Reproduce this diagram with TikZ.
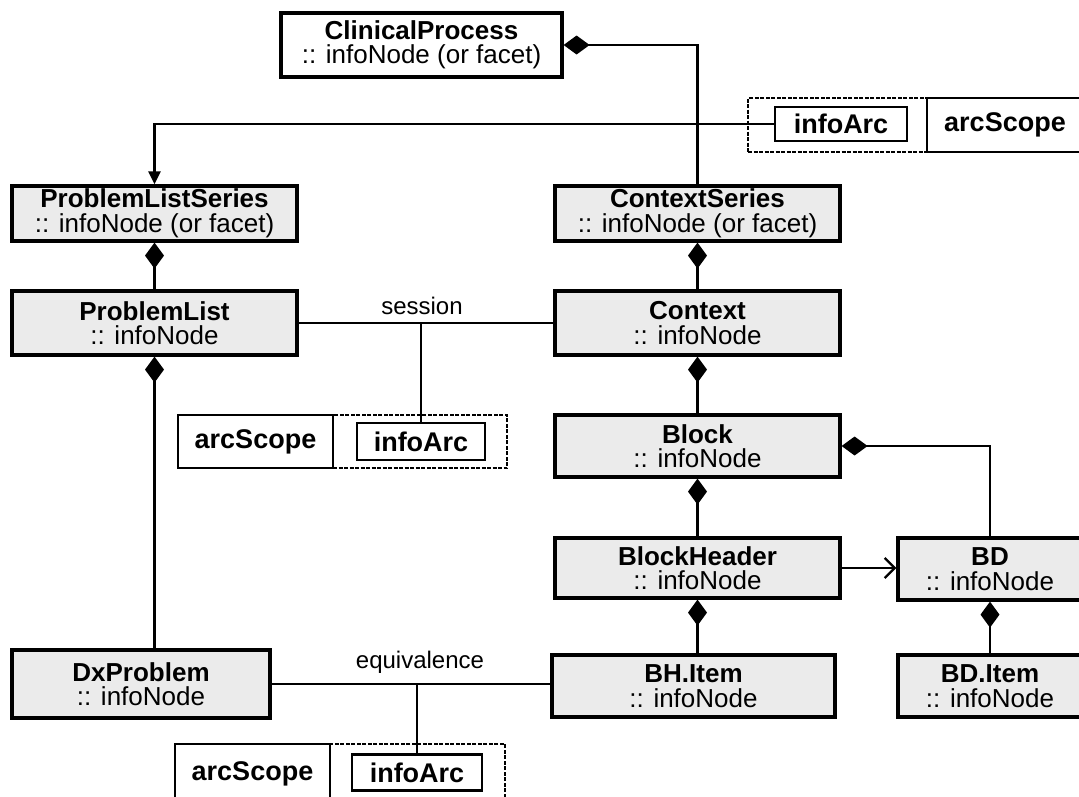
\documentclass[tikz,border=0pt]{standalone}
\usepackage{fontspec}
\setmainfont{Liberation Sans}
\usetikzlibrary{arrows.meta}
\begin{document}
\begin{tikzpicture}[x=1pt,y=-1pt,
  box/.style={draw=black, line width=3.2pt, fill=gray!16, align=center, inner sep=0pt,
    font=\fontsize{26}{24.5}\selectfont},
  wbox/.style={box, fill=white},
  tagbox/.style={draw=black, line width=2.4pt, fill=white, inner sep=0pt,
    font=\fontsize{27}{26}\selectfont\bfseries},
  scopebox/.style={draw=black, line width=1.2pt, dash pattern=on 4pt off 1.5pt, inner sep=0pt},
  lbl/.style={font=\fontsize{24}{24}\selectfont, inner sep=0pt},
  conn/.style={line width=2.4pt},
  comp/.style={conn, {Diamond[length=26pt,width=19pt]}-},
  nav/.style={conn, -{Triangle[length=13pt,width=12pt]}},
  open/.style={conn, -{Straight Barb[length=10pt,width=20pt,line width=2.4pt]}},
]
\useasboundingbox (0,0) rectangle (1079,796);
\clip (0,0) rectangle (1079,796);

% main nodes
\node[wbox, minimum width=281, minimum height=64] (cp) at (421.5,45) {\textbf{ClinicalProcess}\\:: infoNode (or facet)};
\node[box, minimum width=285, minimum height=55] (pls) at (154.5,213.5) {\textbf{ProblemListSeries}\\:: infoNode (or facet)};
\node[box, minimum width=285, minimum height=55] (cs) at (697.5,213.5) {\textbf{ContextSeries}\\:: infoNode (or facet)};
\node[box, minimum width=285, minimum height=64] (pl) at (154.5,323) {\textbf{ProblemList}\\:: infoNode};
\node[box, minimum width=285, minimum height=64] (ctx) at (697.5,323) {\textbf{Context}\\:: infoNode};
\node[box, minimum width=285, minimum height=62] (blk) at (697.5,446) {\textbf{Block}\\:: infoNode};
\node[box, minimum width=285, minimum height=60] (bh) at (697.5,568) {\textbf{BlockHeader}\\:: infoNode};
\node[box, minimum width=184, minimum height=62] (bd) at (990,569) {\textbf{BD}\\:: infoNode};
\node[box, minimum width=283, minimum height=62] (bhi) at (693.5,686) {\textbf{BH.Item}\\:: infoNode};
\node[box, minimum width=184, minimum height=62] (bdi) at (990,686) {\textbf{BD.Item}\\:: infoNode};
\node[box, minimum width=258, minimum height=68] (dxp) at (141,684) {\textbf{DxProblem}\\:: infoNode};

% top arc group
\node[scopebox, minimum width=179, minimum height=54] (sc1) at (837.5,125) {};
\node[tagbox, minimum width=132, minimum height=34] (ia1) at (841,124) {infoArc};
\node[tagbox, minimum width=156, minimum height=54] (as1) at (1005,125) {arcScope};

% middle arc group
\node[scopebox, minimum width=174, minimum height=53] (sc2) at (420,441.5) {};
\node[tagbox, minimum width=155, minimum height=53] (as2) at (255.5,441.5) {arcScope};
\node[tagbox, minimum width=128, minimum height=37] (ia2) at (421,441.5) {infoArc};

% bottom arc group
\node[scopebox, minimum width=175, minimum height=60] (sc3) at (417.5,774) {};
\node[tagbox, minimum width=155, minimum height=60] (as3) at (252.5,774) {arcScope};
\node[tagbox, minimum width=130, minimum height=36] (ia3) at (417,772.5) {infoArc};

% labels
\node[lbl] (ses) at (422,306) {session};
\node[lbl] (eqv) at (420,662) {equivalence};

% connectors
\draw[comp] (cp.east) -| (cs.north);
\draw[nav] (ia1.west) -| (pls.north);
\draw[comp] (pls.south) -- (pl.north);
\draw[comp] (cs.south) -- (ctx.north);
\draw[comp] (ctx.south) -- (blk.north);
\draw[comp] (blk.south) -- (bh.north);
\draw[comp] (bh.south) -- (bh.south |- bhi.north);
\draw[comp] (blk.east) -| (bd.north);
\draw[comp] (bd.south) -- (bdi.north);
\draw[comp] (pl.south) -- (pl.south |- dxp.north);
\draw[open] (bh.east) -- (bh.east -| bd.west);
\draw[conn] (pl.east) -- (ctx.west);
\draw[conn] (ia2.north |- pl.east) -- (ia2.north);
\draw[conn] (dxp.east) -- (dxp.east -| bhi.west);
\draw[conn] (ia3.north |- dxp.east) -- (ia3.north);
\end{tikzpicture}
\end{document}
